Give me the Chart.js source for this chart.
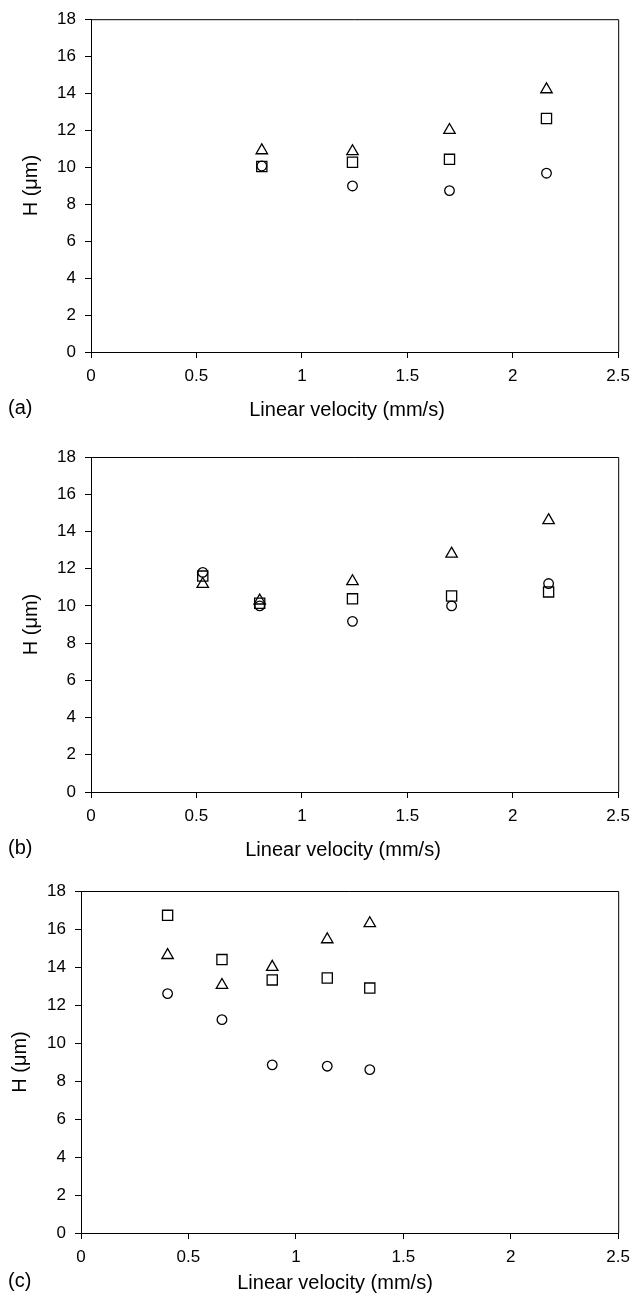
<!DOCTYPE html>
<html>
<head>
<meta charset="utf-8">
<script src="https://cdn.jsdelivr.net/npm/chart.js@4.4.1/dist/chart.umd.min.js"></script>
<style>
  body { margin: 0; background: #fff; }
  .panel { position: absolute; left: 0; }
</style>
</head>
<body>
<canvas id="chartA" class="panel" style="top:0px" width="638" height="430"></canvas>
<canvas id="chartB" class="panel" style="top:430px" width="638" height="440"></canvas>
<canvas id="chartC" class="panel" style="top:870px" width="638" height="427"></canvas>
<script>
// (a)
const aVelocity = [0.81, 1.24, 1.70, 2.16];
const aTriangle = [10.9, 10.85, 12.0, 14.2];
const aSquare = [10.03, 10.26, 10.42, 12.63];
const aCircle = [10.06, 8.98, 8.73, 9.67];

// (b)
const bVelocity = [0.53, 0.80, 1.24, 1.71, 2.17];
const bTriangle = [11.17, 10.28, 11.32, 12.8, 14.6];
const bSquare = [11.6, 10.14, 10.38, 10.53, 10.75];
const bCircle = [11.8, 10.0, 9.17, 10.0, 11.2];

// (c)
const cVelocity = [0.403, 0.656, 0.89, 1.146, 1.344];
const cTriangle = [14.62, 13.05, 14.0, 15.45, 16.3];
const cSquare = [16.72, 14.39, 13.32, 13.42, 12.89];
const cCircle = [12.6, 11.23, 8.85, 8.78, 8.6];

const xTicks = [0, 0.5, 1, 1.5, 2, 2.5];
const yTicks = [0, 2, 4, 6, 8, 10, 12, 14, 16, 18];

const FONT = '"Liberation Sans", Arial, Helvetica, sans-serif';

function toPoints(xs, ys) {
  return xs.map((x, i) => ({ x: x, y: ys[i] }));
}

function series(xs, ys, style, radius) {
  return {
    data: toPoints(xs, ys),
    pointStyle: style,
    pointRadius: radius,
    pointHoverRadius: radius,
    pointBorderWidth: 1.3,
    pointBorderColor: "#000",
    pointBackgroundColor: "rgba(0,0,0,0)",
    showLine: false,
  };
}

// draws the top/right frame lines plus the axis titles and panel letter
const framePlugin = {
  id: "frame",
  afterDraw(chart, args, opts) {
    const { ctx, chartArea: a } = chart;
    ctx.save();
    ctx.strokeStyle = "#000";
    ctx.lineWidth = 1;
    ctx.beginPath();
    ctx.moveTo(a.left, a.top + 0.5);
    ctx.lineTo(a.right + 0.5, a.top + 0.5);
    ctx.lineTo(a.right + 0.5, a.bottom);
    ctx.stroke();

    ctx.fillStyle = "#000";
    ctx.font = "20px " + FONT;
    ctx.textAlign = "center";
    ctx.textBaseline = "middle";
    ctx.fillText("Linear velocity (mm/s)", opts.titleX, opts.titleY);
    ctx.textAlign = "left";
    ctx.fillText(opts.letter, 8, opts.titleY - 2);

    ctx.translate(opts.yTitleX, (a.top + a.bottom) / 2);
    ctx.rotate(-Math.PI / 2);
    ctx.textAlign = "center";
    ctx.fillText("H (\u03bcm)", 0, 0);
    ctx.restore();
  },
};

function makePanel(id, xs, tri, sq, circ, box) {
  const canvas = document.getElementById(id);
  const h = canvas.height;
  return new Chart(canvas, {
    type: "scatter",
    data: {
      datasets: [
        series(xs, tri, "triangle", 6.6),
        series(xs, sq, "rect", 7.2),
        series(xs, circ, "circle", 4.8),
      ],
    },
    options: {
      responsive: false,
      animation: false,
      devicePixelRatio: 1,
      layout: {
        padding: { top: box.top, right: 638 - box.right, bottom: 0, left: 0 },
      },
      plugins: {
        legend: { display: false },
        tooltip: { enabled: false },
        frame: {
          letter: box.letter,
          titleX: box.titleX,
          titleY: box.titleY,
          yTitleX: box.yTitleX,
        },
      },
      scales: {
        x: {
          type: "linear",
          min: 0,
          max: 2.5,
          afterBuildTicks: (s) => { s.ticks = xTicks.map((v) => ({ value: v })); },
          afterFit: (s) => { s.height = h - box.bottom; },
          ticks: {
            color: "#000",
            font: { family: FONT, size: 17 },
            padding: 8,
            maxRotation: 0,
            callback: (v) => String(v),
          },
          grid: { display: true, drawOnChartArea: false, drawTicks: true, tickLength: 6, color: "#000", lineWidth: 1 },
          border: { display: true, color: "#000", width: 1 },
        },
        y: {
          type: "linear",
          min: 0,
          max: 18,
          afterBuildTicks: (s) => { s.ticks = yTicks.map((v) => ({ value: v })); },
          afterFit: (s) => { s.width = box.left; },
          ticks: {
            color: "#000",
            font: { family: FONT, size: 17 },
            padding: 9,
            callback: (v) => String(v),
          },
          grid: { display: true, drawOnChartArea: false, drawTicks: true, tickLength: 6, color: "#000", lineWidth: 1 },
          border: { display: true, color: "#000", width: 1 },
        },
      },
    },
    plugins: [framePlugin],
  });
}

makePanel("chartA", aVelocity, aTriangle, aSquare, aCircle,
  { left: 91, right: 623, top: 18, bottom: 352, letter: "(a)", titleX: 347, titleY: 410, yTitleX: 31 });
makePanel("chartB", bVelocity, bTriangle, bSquare, bCircle,
  { left: 91, right: 623, top: 27, bottom: 362, letter: "(b)", titleX: 343, titleY: 420, yTitleX: 31 });
makePanel("chartC", cVelocity, cTriangle, cSquare, cCircle,
  { left: 81, right: 624, top: 21, bottom: 363, letter: "(c)", titleX: 335, titleY: 413, yTitleX: 20 });
</script>
</body>
</html>
